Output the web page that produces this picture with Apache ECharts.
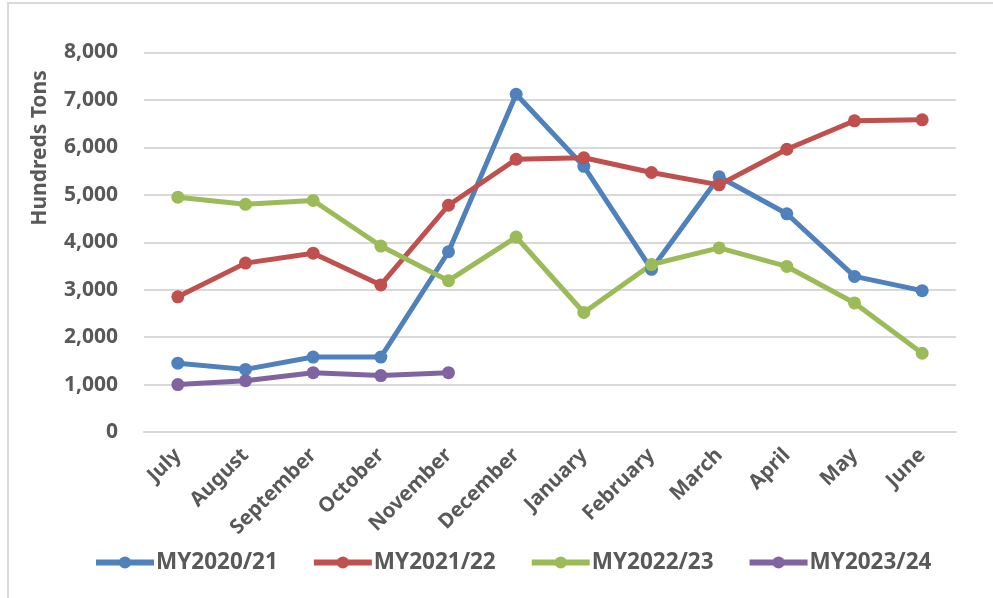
<!DOCTYPE html>
<html>
<head>
<meta charset="utf-8">
<title>Monthly tonnage by marketing year</title>
<script src="https://cdn.jsdelivr.net/npm/echarts@6/dist/echarts.min.js"></script>
<style>
  html, body { margin: 0; padding: 0; background: #fff; }
  #main { width: 993px; height: 598px; }
</style>
</head>
<body>
<div id="main"></div>
<script type="text/javascript">
    var months = ['July', 'August', 'September', 'October', 'November', 'December',
                  'January', 'February', 'March', 'April', 'May', 'June'];
    var my2020 = [1450, 1320, 1580, 1580, 3800, 7120, 5600, 3430, 5380, 4600, 3280, 2980];
    var my2021 = [2850, 3560, 3770, 3100, 4780, 5750, 5780, 5470, 5210, 5960, 6560, 6580];
    var my2022 = [4950, 4800, 4880, 3920, 3190, 4110, 2520, 3530, 3880, 3490, 2720, 1660];
    var my2023 = [1000, 1080, 1250, 1190, 1250];
    var yTicks = [0, 8000, 1000]; // min, max, step

    var txt = '#595959';
    var font = 'Noto Sans';

    function line(name, data, color) {
        return {
            name: name,
            type: 'line',
            data: data,
            symbol: 'circle',
            symbolSize: 13,
            lineStyle: { width: 5, color: color },
            itemStyle: { color: color },
            animation: false
        };
    }

    var myChart = echarts.init(document.getElementById('main'));
    myChart.setOption({
        backgroundColor: '#fff',
        textStyle: { fontFamily: font, fontWeight: 'bold' },
        grid: { left: 144, right: 37, top: 52.5, bottom: 166 },
        legend: {
            left: 93,
            top: 551,
            padding: 0,
            itemWidth: 58,
            itemHeight: 15,
            itemGap: 33,
            lineStyle: { width: 6 },
            textStyle: { color: txt, fontSize: 22.5, fontWeight: 'bold', fontFamily: font, padding: [0, 0, 0, -3] },
            data: ['MY2020/21', 'MY2021/22', 'MY2022/23', 'MY2023/24']
        },
        xAxis: {
            type: 'category',
            data: months,
            axisLine: { lineStyle: { color: '#d9d9d9', width: 2 } },
            axisTick: { show: false },
            axisLabel: { rotate: 45, color: txt, fontSize: 20.5, fontWeight: 'bold', margin: 20, interval: 0 }
        },
        yAxis: {
            type: 'value',
            min: yTicks[0],
            max: yTicks[1],
            interval: yTicks[2],
            axisLine: { show: false },
            axisTick: { show: false },
            splitLine: { lineStyle: { color: '#d9d9d9', width: 2 } },
            axisLabel: {
                color: txt, fontSize: 21, fontWeight: 'bold', margin: 26,
                formatter: function (v) { return v.toLocaleString('en-US'); }
            }
        },
        graphic: [
            {
                type: 'rect',
                shape: { x: 8, y: 3, width: 1100, height: 800 },
                style: { fill: null, stroke: '#d9d9d9', lineWidth: 2 },
                silent: true
            },
            {
                type: 'text',
                x: 40, y: 148,
                rotation: Math.PI / 2,
                style: {
                    text: 'Hundreds Tons',
                    fill: txt,
                    font: 'bold 21px "Noto Sans"',
                    textAlign: 'center',
                    textVerticalAlign: 'middle'
                }
            }
        ],
        series: [
            line('MY2020/21', my2020, '#4F81BD'),
            line('MY2021/22', my2021, '#C0504D'),
            line('MY2022/23', my2022, '#9BBB59'),
            line('MY2023/24', my2023, '#8064A2')
        ]
    });
</script>
</body>
</html>
